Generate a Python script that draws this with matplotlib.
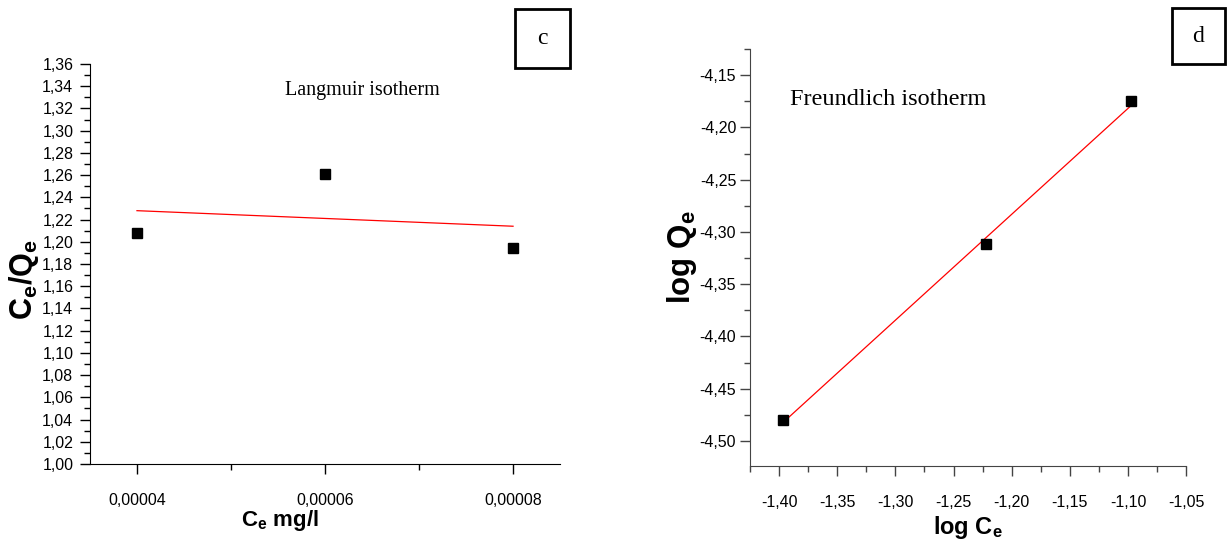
import numpy as np
import matplotlib
matplotlib.use("Agg")
import matplotlib.pyplot as plt
from matplotlib.ticker import MultipleLocator, FuncFormatter
from matplotlib.patches import Rectangle

# Langmuir data
lang_ce = [0.00004, 0.00006, 0.00008]
lang_ce_qe = [1.208, 1.261, 1.194]
# Freundlich data
fr_logce = [-1.397, -1.222, -1.097]
fr_logqe = [-4.480, -4.312, -4.175]

plt.rcParams['font.family'] = ['Liberation Sans', 'DejaVu Sans']
plt.rcParams['mathtext.fontset'] = 'custom'
plt.rcParams['mathtext.rm'] = 'Liberation Sans'
plt.rcParams['mathtext.bf'] = 'Liberation Sans:bold'
plt.rcParams['mathtext.it'] = 'Liberation Sans:italic'

NARROW = ['Liberation Sans Narrow', 'Liberation Sans', 'DejaVu Sans']
SERIF = ['Liberation Serif', 'DejaVu Serif']

fig = plt.figure(figsize=(12.29, 5.42), dpi=100)

def comma(fmt):
    return FuncFormatter(lambda v, p: (fmt % v).replace('.', ','))

# ---- Left panel (c)
ax1 = fig.add_axes([0.0732, 0.1439, 0.3825, 0.738])
ax1.plot(lang_ce, lang_ce_qe, 's', color='black', markersize=6.5, zorder=3)
k, b = np.polyfit(lang_ce, lang_ce_qe, 1)
xs = np.array([min(lang_ce), max(lang_ce)])
ax1.plot(xs, k * xs + b, color='red', lw=0.9)
ax1.set_xlim(0.000035, 0.000085)
ax1.set_ylim(1.00, 1.36)
ax1.spines['top'].set_visible(False)
ax1.spines['right'].set_visible(False)
ax1.xaxis.set_major_locator(MultipleLocator(0.00002))
ax1.xaxis.set_minor_locator(MultipleLocator(0.00001))
ax1.yaxis.set_major_locator(MultipleLocator(0.02))
ax1.yaxis.set_minor_locator(MultipleLocator(0.01))
ax1.xaxis.set_major_formatter(comma('%.5f'))
ax1.yaxis.set_major_formatter(comma('%.2f'))
ax1.tick_params(which='major', length=7, width=1, labelsize=11.5, pad=5)
ax1.tick_params(which='minor', length=4, width=1)
ax1.tick_params(axis='x', which='major', pad=14)
for lab in ax1.get_xticklabels() + ax1.get_yticklabels():
    lab.set_family(NARROW)
ax1.text(0.579, 0.935, 'Langmuir isotherm', transform=ax1.transAxes,
         family=SERIF, fontsize=14.5, ha='center', va='center')
ax1.set_ylabel(r'$\mathbf{C_e/Q_e}$', fontsize=22)
ax1.yaxis.set_label_coords(-0.104, 0.46)
ax1.set_xlabel(r'$\mathbf{C_e}$ mg/l', fontsize=16, fontweight='bold')
ax1.xaxis.set_label_coords(0.405, -0.11)

# ---- Right panel (d)
ax2 = fig.add_axes([0.6103, 0.1402, 0.3548, 0.7694])
ax2.plot(fr_logce, fr_logqe, 's', color='black', markersize=6.5, zorder=3)
k2, b2 = np.polyfit(fr_logce, fr_logqe, 1)
xs2 = np.array([min(fr_logce), max(fr_logce)])
ax2.plot(xs2, k2 * xs2 + b2, color='red', lw=0.9)
ax2.set_xlim(-1.425, -1.05)
ax2.set_ylim(-4.524, -4.125)
ax2.spines['top'].set_visible(False)
ax2.spines['right'].set_visible(False)
ax2.xaxis.set_major_locator(MultipleLocator(0.05))
ax2.xaxis.set_minor_locator(MultipleLocator(0.025))
ax2.yaxis.set_major_locator(MultipleLocator(0.05))
ax2.yaxis.set_minor_locator(MultipleLocator(0.025))
ax2.xaxis.set_major_formatter(comma('%.2f'))
ax2.yaxis.set_major_formatter(comma('%.2f'))
for s in ax2.spines.values():
    s.set_color('#444444')
ax2.tick_params(which='major', length=7, width=1, labelsize=11.5, pad=3, color='#444444')
ax2.tick_params(which='minor', length=4, width=1, color='#444444')
ax2.tick_params(axis='x', which='major', pad=14)
for lab in ax2.get_xticklabels() + ax2.get_yticklabels():
    lab.set_family(NARROW)
ax2.text(0.092, 0.878, 'Freundlich isotherm', transform=ax2.transAxes,
         family=SERIF, fontsize=17.5, ha='left', va='center')
ax2.set_ylabel(r'$\mathbf{log\ Q_e}$', fontsize=22.5)
ax2.yaxis.set_label_coords(-0.118, 0.5)
ax2.set_xlabel(r'$\mathbf{log\ C_e}$', fontsize=17)
ax2.xaxis.set_label_coords(0.5, -0.115)

# ---- Panel letter boxes
W, H = 1229.0, 542.0
def box(x0, y0, x1, y1, letter):
    fig.patches.append(Rectangle((x0 / W, 1 - y1 / H), (x1 - x0) / W, (y1 - y0) / H,
                                 transform=fig.transFigure, fill=False,
                                 edgecolor='black', lw=2))
    fig.text((x0 + x1) / 2 / W, 1 - (y0 + y1) / 2 / H, letter,
             family=SERIF, fontsize=17, ha='center', va='center')

box(515, 9, 570, 68, 'c')
box(1172, 8, 1225, 64, 'd')

fig.savefig('out.png', dpi=100)
